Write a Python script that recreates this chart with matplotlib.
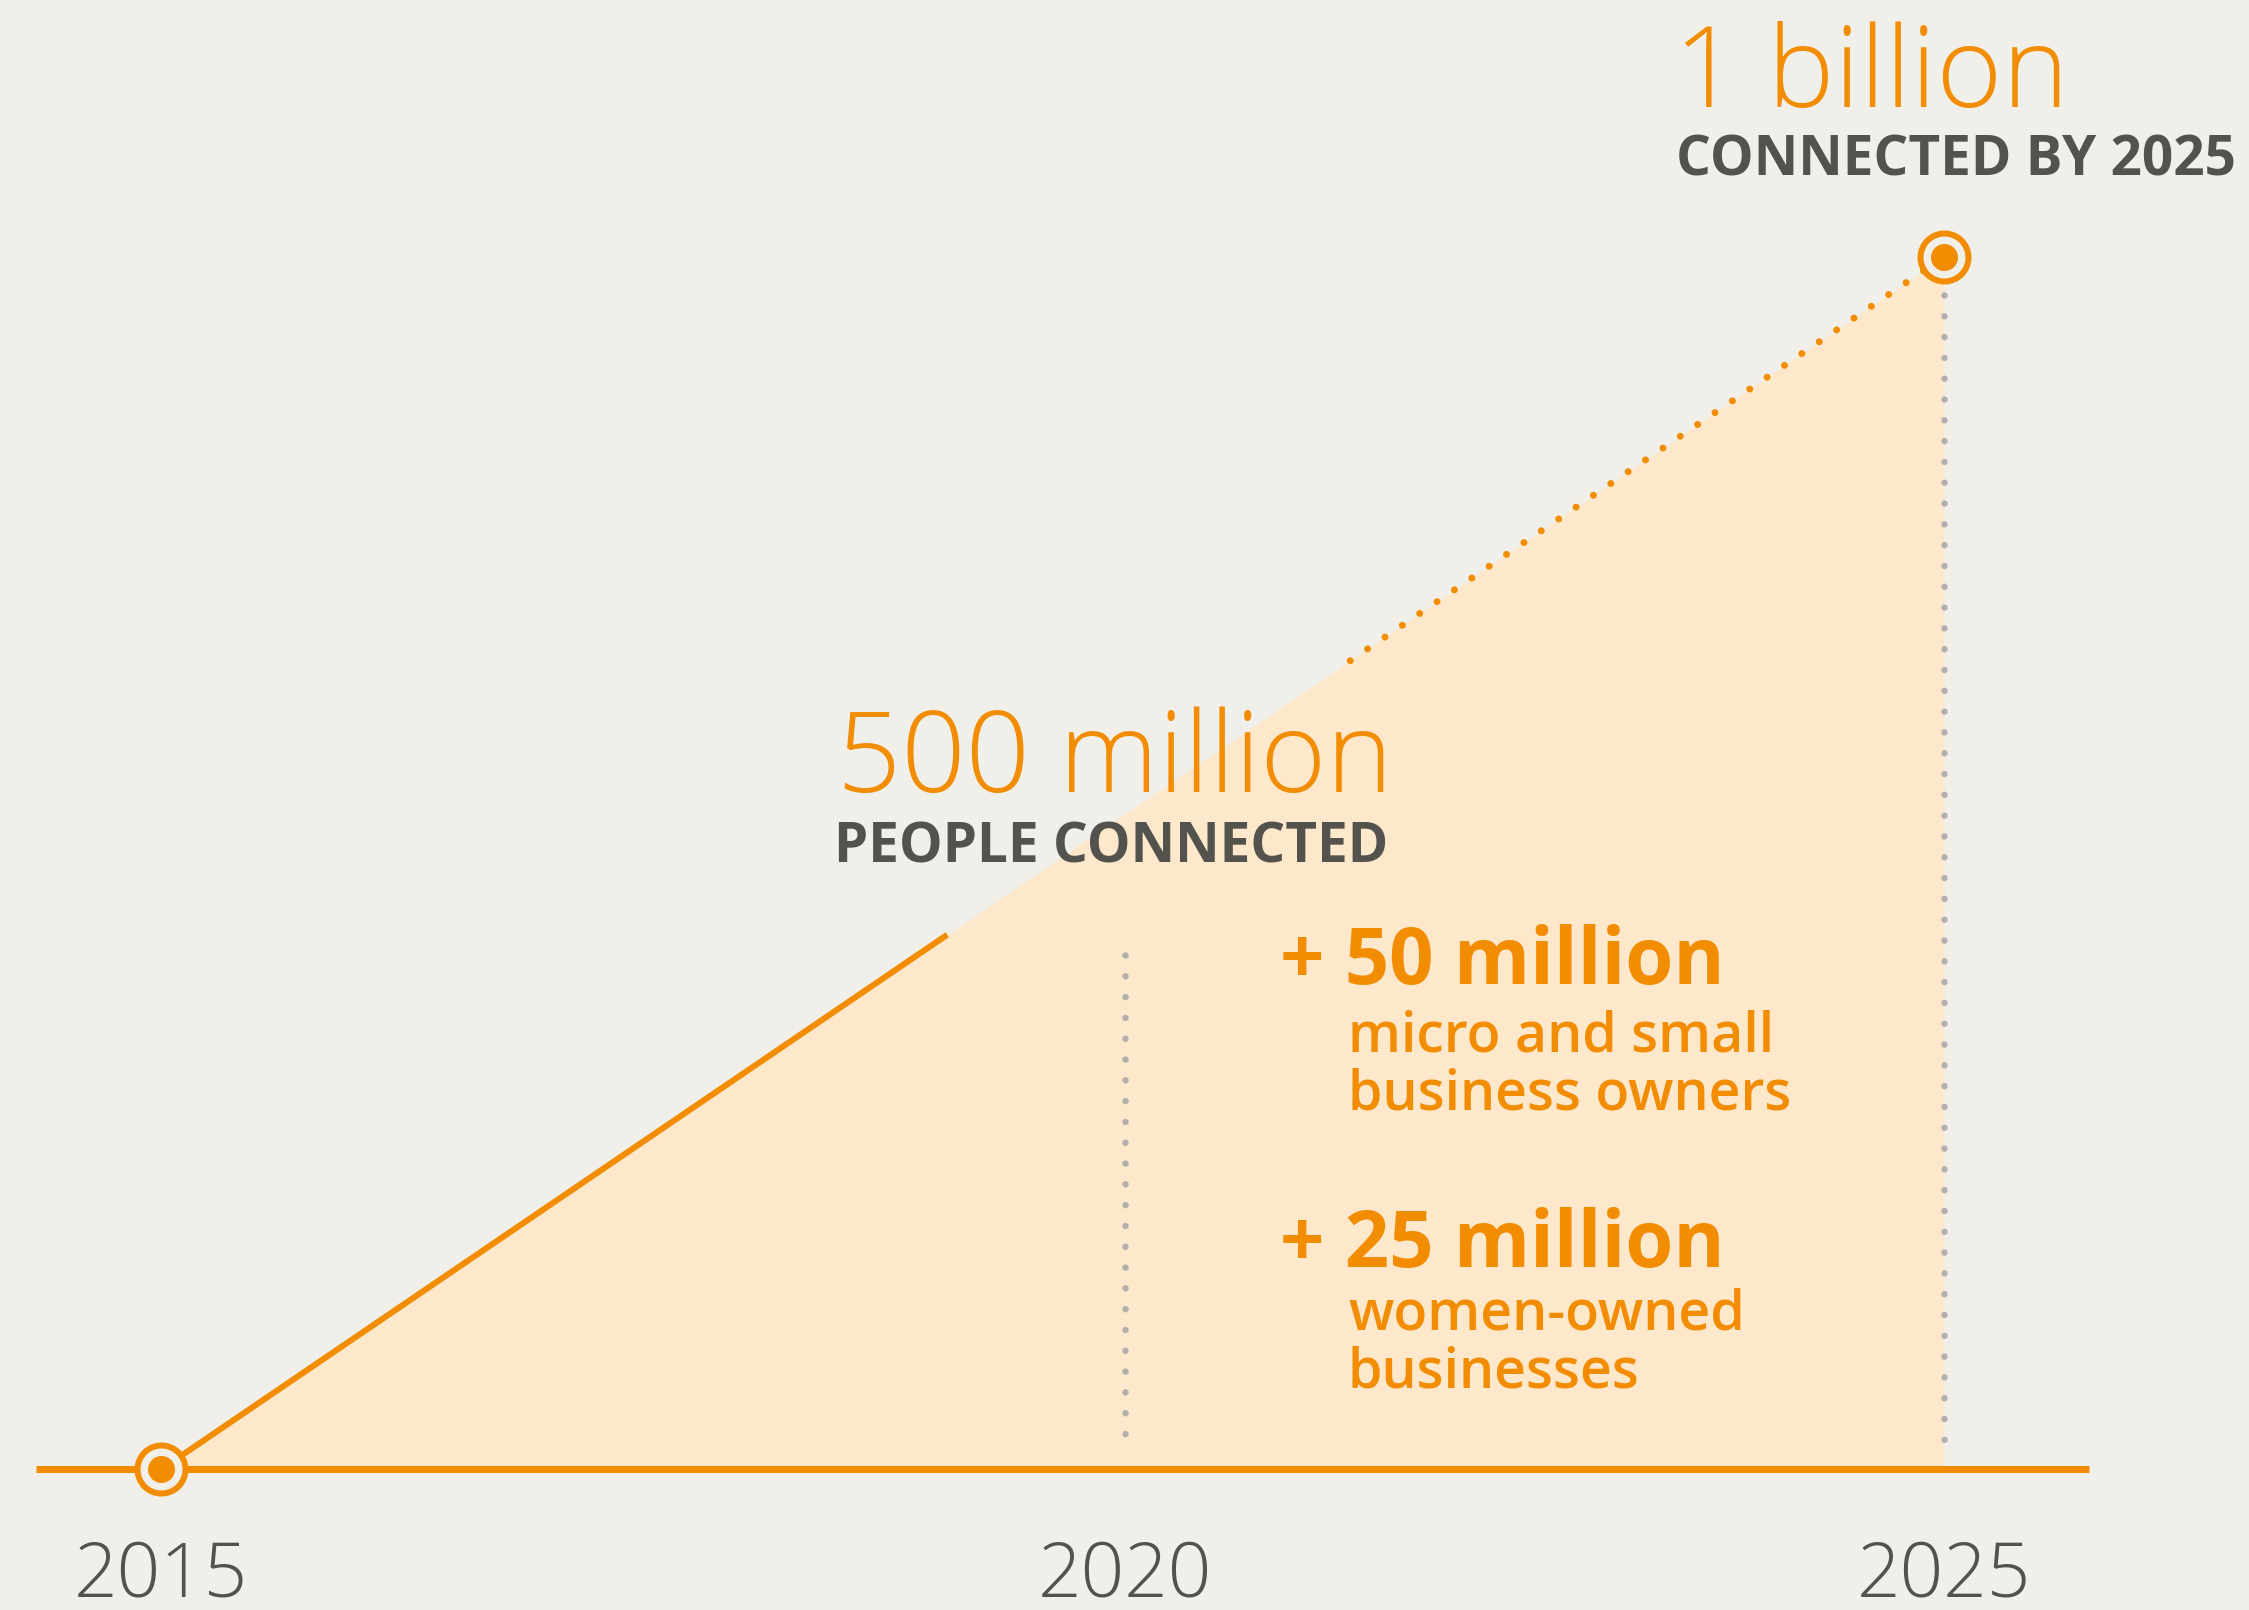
import numpy as np
import matplotlib.pyplot as plt

# milestones: people connected (millions)
years = [2015, 2025]
people_m = [0, 1000]
tick_years = [2015, 2020, 2025]
tick_labels = ["2015", "2020", "2025"]
guide_years = [2020, 2025]
guide_tops = [424, 969]
guide_bottom = 17

headline_big = ["1 billion", "500 million"]
headline_small = ["CONNECTED BY 2025", "PEOPLE CONNECTED"]
extra_big = ["+ 50 million", "+ 25 million"]
extra_small = [["micro and small", "business owners"], ["women-owned", "businesses"]]

BG = "#F1EFEA"
FILL = "#FEE8CC"
ORANGE = "#F28C00"
GRAY = "#54524D"
DOTGRAY = "#B3B0AB"

W, H = 2249, 1610
PT = 72 / 100  # points per pixel at dpi 100

# the year axis is not to scale in the original: 2020 sits a bit right of centre
K = 0.5407


def fwd(x):
    x = np.asarray(x, dtype=float)
    return np.where(x < 2020, (x - 2015) / 5 * K, K + (x - 2020) / 5 * (1 - K))


def inv(u):
    u = np.asarray(u, dtype=float)
    return np.where(u < K, 2015 + u / K * 5, 2020 + (u - K) / (1 - K) * 5)


def px(x, y):
    return x / W, (H - y) / H


plt.rcParams['font.family'] = ['Open Sans', 'DejaVu Sans']

fig = plt.figure(figsize=(W / 100, H / 100), dpi=100)
fig.patch.set_facecolor(BG)
ax = fig.add_axes([0, 0, 1, 1])
ax.set_facecolor(BG)
ax.axis('off')
ax.set_xscale('function', functions=(fwd, inv))
ax.set_xlim(float(inv(-0.0903)), float(inv(1.1711)))
ax.set_ylim(-115.9, 1211.9)

# shaded area under the growth line
ax.fill_between(years, 0, people_m, color=FILL, lw=0, zorder=1)

# growth line: solid part, gap for the label, dotted part
u_pts = fwd(years)


def seg(u0, u1):
    u = np.array([u0, u1])
    return inv(u), np.interp(u, u_pts, people_m)


sx, sy = seg(0, 0.441)
ax.plot(sx, sy, color=ORANGE, lw=6 * PT, solid_capstyle='butt', zorder=3)
dx, dy = seg(0.667, 1.0)
ax.plot(dx, dy, color=ORANGE, lw=7 * PT, linestyle=(0, (0.001, 3.0)),
        dash_capstyle='round', zorder=3)

# grey guides
for yr, top in zip(guide_years, guide_tops):
    ax.plot([yr, yr], [top, guide_bottom], color=DOTGRAY, lw=6.5 * PT,
            linestyle=(0, (0.001, 3.2)), dash_capstyle='round', zorder=2)

# baseline
ax.axhline(0, xmin=36 / W, xmax=2089 / W, color=ORANGE, lw=7 * PT,
           solid_capstyle='butt', zorder=4)

# target markers
ax.plot(years, people_m, 'o', ms=48 * PT, mfc=BG, mec=ORANGE, mew=6 * PT,
        zorder=5, clip_on=False)
ax.plot(years, people_m, 'o', ms=27 * PT, color=ORANGE, mew=0, zorder=6,
        clip_on=False)

# year labels
for yr, lab in zip(tick_years, tick_labels):
    ax.text(yr, 14 / H, lab, transform=ax.get_xaxis_transform(), ha='center',
            va='baseline', fontsize=55, fontweight=300, color=GRAY)

# headlines
big_pos = [(1674, 107), (837, 792)]
small_pos = [(1676, 176), (834, 862)]
for t, (x, y) in zip(headline_big, big_pos):
    fig.text(*px(x, y), t, fontsize=81, fontweight=300, color=ORANGE,
             va='baseline', ha='left')
for t, (x, y) in zip(headline_small, small_pos):
    fig.text(*px(x, y), t, fontsize=39.5, fontweight='bold', color=GRAY,
             va='baseline', ha='left')

# extra figures
extra_pos = [(984, [1052, 1109]), (1267, [1329, 1387])]
for big, smalls, (yb, ys) in zip(extra_big, extra_small, extra_pos):
    fig.text(*px(1280, yb), big, fontsize=56, fontweight='bold', color=ORANGE,
             va='baseline', ha='left')
    for s, y in zip(smalls, ys):
        fig.text(*px(1348, y), s, fontsize=40, fontweight=600,
                 color=ORANGE, va='baseline', ha='left')

fig.savefig("out.png", dpi=100, facecolor=BG)
